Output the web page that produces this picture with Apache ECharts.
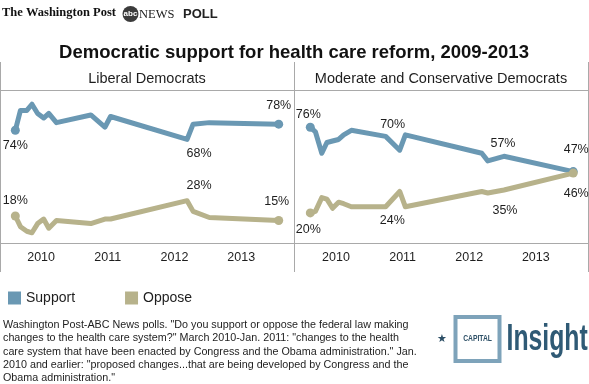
<!DOCTYPE html>
<html><head><meta charset="utf-8">
<script src="https://cdn.jsdelivr.net/npm/echarts@6/dist/echarts.min.js"></script>
<style>html,body{margin:0;padding:0;background:#fff}#c{width:589px;height:384px}</style>
</head><body><div id="c"></div>
<script>
// ---- data ----
const pollDates = ['2009-08-13','2009-09-10','2009-10-15','2009-11-12','2009-12-13','2010-01-15','2010-02-12','2010-03-26','2010-09-30','2010-12-16','2011-01-16','2012-03-10','2012-04-12','2012-07-10','2013-07-25'];
const libSupport = [74, 87, 87, 91, 85, 82, 85, 79, 84, 76, 83, 68, 78, 79, 78];
const libOppose  = [18, 11, 8, 7, 13, 16, 10, 15, 13, 16, 16, 28, 21, 17, 15];
const modSupport = [76, 73, 59, 66, 67, 68, 71, 74, 70, 61, 71, 59, 54, 57, 47];
const modOppose  = [20, 21, 30, 29, 23, 27, 26, 24, 24, 34, 24, 34, 33, 35, 46];
const yearTicks = [2010, 2011, 2012, 2013];
const seriesNames = ['Support', 'Oppose'];
const panelTitles = ['Liberal Democrats', 'Moderate and Conservative Democrats'];
const chartTitle = 'Democratic support for health care reform, 2009-2013';
const footnoteLines = [
  'Washington Post-ABC News polls. "Do you support or oppose the federal law making',
  'changes to the health care system?" March 2010-Jan. 2011: "changes to the health',
  'care system that have been enacted by Congress and the Obama administration." Jan.',
  '2010 and earlier: "proposed changes...that are being developed by Congress and the',
  'Obama administration."'
];

// ---- helpers ----
function decYear(s){
  const d = Date.parse(s + 'T00:00:00Z');
  const y = +s.slice(0,4);
  const a = Date.UTC(y,0,1), b = Date.UTC(y+1,0,1);
  return y + (d - a) / (b - a);
}
const xs = pollDates.map(decYear);
const FONT = '"Liberation Sans", Arial, sans-serif';
const BLUE = '#6a98b3', TAN = '#b7b28b', TXT = '#1e1e1e', RULE = '#a9a9a9';

// label placement styles: index -> [dx, dy]
function buildSeries(name, vals, color, g, labelOffsets){
  const last = vals.length - 1;
  const data = vals.map((v, i) => {
    const item = { value: [xs[i], v] };
    if (i === 0 || i === last) { item.symbol = 'circle'; item.symbolSize = 9; }
    else if (labelOffsets[i]) { item.symbol = 'circle'; item.symbolSize = 0.1; }
    if (labelOffsets[i]) item.label = { show: true, position: 'inside', offset: labelOffsets[i] };
    return item;
  });
  return {
    type: 'line', name, xAxisIndex: g, yAxisIndex: g, data, color,
    symbol: 'none', showSymbol: true, showAllSymbol: true,
    itemStyle: { color },
    lineStyle: { width: 5, color, cap: 'round', join: 'round' },
    label: { show: false, formatter: p => p.value[1] + '%', fontSize: 12.5, color: TXT, fontFamily: FONT },
    emphasis: { disabled: true }, silent: true, z: 3
  };
}

const grids = [
  { left: 0, top: 90.5, width: 294, height: 153 },
  { left: 295, top: 90.5, width: 293.5, height: 153 }
];
const xMin = 2009.384, xMax = 2013.791;
const xAxes = grids.map((_, i) => ({
  type: 'value', gridIndex: i, min: xMin, max: xMax,
  splitLine: { show: false }, axisLine: { show: false }, axisTick: { show: false },
  axisLabel: { customValues: yearTicks, formatter: v => String(v), fontSize: 12.5, color: TXT, fontFamily: FONT, margin: 8 }
}));
const yAxes = grids.map((_, i) => ({ type: 'value', gridIndex: i, min: 0, max: 100, show: false }));

const series = [
  buildSeries(seriesNames[0], libSupport, BLUE, 0, { 0: [0, 15], 11: [12, 14], 14: [0, -19] }),
  buildSeries(seriesNames[1], libOppose, TAN, 0, { 0: [0, -15], 11: [12, -15], 14: [-2, -19] }),
  buildSeries(seriesNames[0], modSupport, BLUE, 1, { 0: [-2, -13], 8: [7, -12], 13: [-1, -13], 14: [3, -22] }),
  buildSeries(seriesNames[1], modOppose, TAN, 1, { 0: [-2, 17], 10: [-13, 14], 13: [1, 21], 14: [3, 20] })
];

const line = (x1, y1, x2, y2) => ({ type: 'line', shape: { x1, y1, x2, y2 }, style: { stroke: RULE, lineWidth: 1 }, silent: true });
const graphic = [
  line(0, 90.5, 589, 90.5),
  line(0, 243.5, 589, 243.5),
  line(0.5, 62, 0.5, 272),
  line(294.5, 62, 294.5, 272),
  line(588.5, 62, 588.5, 272),
  // header
  { type: 'text', left: 2, top: 6, style: { text: 'The Washington Post', font: 'bold 12.5px "Liberation Serif", serif', fill: '#111' } },
  { type: 'circle', shape: { cx: 130.5, cy: 14, r: 8 }, style: { fill: '#3b3b3b' } },
  { type: 'text', x: 130.5, y: 14, style: { text: 'abc', font: 'bold 8px ' + FONT, fill: '#fff', align: 'center', verticalAlign: 'middle' } },
  { type: 'text', x: 139, y: 14.5, style: { text: 'NEWS', font: '12.5px "Liberation Serif", serif', fill: '#222', verticalAlign: 'middle' } },
  { type: 'text', x: 183, y: 14.5, style: { text: 'POLL', font: 'bold 13px ' + FONT, fill: '#222', verticalAlign: 'middle' } },
  // titles
  { type: 'text', x: 294, y: 53, style: { text: chartTitle, font: 'bold 18.5px ' + FONT, fill: '#111', align: 'center', verticalAlign: 'middle' } },
  { type: 'text', x: 147, y: 79, style: { text: panelTitles[0], font: '14.5px ' + FONT, fill: TXT, align: 'center', verticalAlign: 'middle' } },
  { type: 'text', x: 441, y: 79, style: { text: panelTitles[1], font: '14.5px ' + FONT, fill: TXT, align: 'center', verticalAlign: 'middle' } },
  // footnote
  { type: 'text', x: 3, y: 318.5, style: { text: footnoteLines.join('\n'), font: '10.75px ' + FONT, lineHeight: 13.3, fill: TXT, verticalAlign: 'top' } },
  // logo
  { type: 'text', x: 442, y: 339, style: { text: '★', font: '11px "DejaVu Sans", sans-serif', fill: '#2d4f66', align: 'center', verticalAlign: 'middle' } },
  { type: 'rect', shape: { x: 455.5, y: 317, width: 44, height: 44 }, style: { fill: '#fff', stroke: '#7ea3ba', lineWidth: 4 } },
  { type: 'text', x: 477.5, y: 339, scaleX: 0.75, style: { text: 'CAPITAL', font: 'bold 9px ' + FONT, fill: '#2d4f66', align: 'center', verticalAlign: 'middle' } },
  { type: 'text', x: 506.5, y: 339.5, scaleX: 0.67, style: { text: 'Insight', font: 'bold 37px ' + FONT, fill: '#2f5a75', verticalAlign: 'middle' } }
];

const chart = echarts.init(document.getElementById('c'), null, { renderer: 'canvas' });
chart.setOption({
  animation: false,
  textStyle: { fontFamily: FONT },
  grid: grids, xAxis: xAxes, yAxis: yAxes, series,
  legend: {
    data: seriesNames.map(n => ({ name: n, icon: 'rect' })),
    left: 3, top: 286, itemWidth: 13, itemHeight: 13, itemGap: 50,
    textStyle: { fontSize: 14, color: TXT, fontFamily: FONT }, selectedMode: false
  },
  graphic
});
</script>
</body></html>
